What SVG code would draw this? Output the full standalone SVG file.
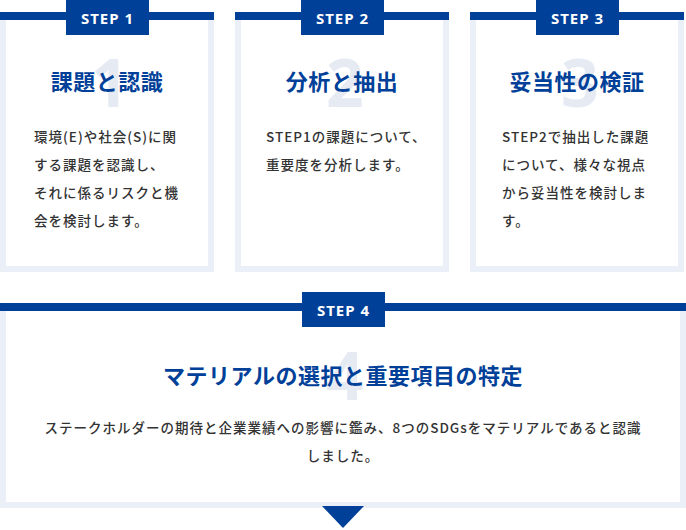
<svg xmlns="http://www.w3.org/2000/svg" width="686" height="530" viewBox="0 0 686 530">
<style>
.box{fill:#fff;stroke:#ebf0f8;stroke-width:6}
.bar{fill:#004098}
.lbl{font-family:"Noto Sans","Noto Sans CJK JP",sans-serif;font-weight:700;font-size:15px;fill:#fff;text-anchor:middle;letter-spacing:1px}
.num{font-family:"Noto Sans",sans-serif;font-weight:700;font-size:66px;fill:#e6ebf3;text-anchor:middle}
.ttl{font-family:"Noto Sans CJK JP",sans-serif;font-weight:700;font-size:22px;fill:#004098;text-anchor:middle;letter-spacing:0.5px}
.txt{font-family:"Noto Sans CJK JP",sans-serif;font-weight:500;font-size:13.5px;fill:#333;letter-spacing:1px}
</style>
<g id="step1">
<rect class="box" x="3" y="15" width="208" height="254"/>
<rect class="bar" x="0" y="12" width="214" height="8"/>
<rect class="bar" x="66" y="0" width="83" height="35"/>
<text class="lbl" x="107.5" y="24">STEP 1</text>
<text class="num" x="110" y="107">1</text>
<text class="ttl" x="107" y="90">課題と認識</text>
<text class="txt" x="34" y="142">環境(E)や社会(S)に関</text>
<text class="txt" x="34" y="170">する課題を認識し、</text>
<text class="txt" x="34" y="198">それに係るリスクと機</text>
<text class="txt" x="34" y="226">会を検討します。</text>
</g>
<g id="step2">
<rect class="box" x="238" y="15" width="208" height="254"/>
<rect class="bar" x="235" y="12" width="214" height="8"/>
<rect class="bar" x="301" y="0" width="83" height="35"/>
<text class="lbl" x="342.5" y="24">STEP 2</text>
<text class="num" x="345" y="107">2</text>
<text class="ttl" x="342" y="90">分析と抽出</text>
<text class="txt" x="266" y="142">STEP1の課題について、</text>
<text class="txt" x="266" y="170">重要度を分析します。</text>
</g>
<g id="step3">
<rect class="box" x="473" y="15" width="208" height="254"/>
<rect class="bar" x="470" y="12" width="214" height="8"/>
<rect class="bar" x="536" y="0" width="83" height="35"/>
<text class="lbl" x="577.5" y="24">STEP 3</text>
<text class="num" x="580" y="107">3</text>
<text class="ttl" x="577" y="90">妥当性の検証</text>
<text class="txt" x="502" y="142">STEP2で抽出した課題</text>
<text class="txt" x="502" y="170">について、様々な視点</text>
<text class="txt" x="502" y="198">から妥当性を検討しま</text>
<text class="txt" x="502" y="226">す。</text>
</g>
<g id="step4">
<rect class="box" x="3" y="307" width="680" height="198"/>
<rect class="bar" x="0" y="303" width="686" height="8"/>
<rect class="bar" x="302" y="292" width="83" height="35"/>
<text class="lbl" x="343.5" y="316">STEP 4</text>
<text class="num" x="345" y="400">4</text>
<text class="ttl" x="343" y="384">マテリアルの選択と重要項目の特定</text>
<text class="txt" x="343" y="433" text-anchor="middle">ステークホルダーの期待と企業業績への影響に鑑み、8つのSDGsをマテリアルであると認識</text>
<text class="txt" x="343" y="461" text-anchor="middle">しました。</text>
</g>
<g id="connectors">
<polygon class="bar" points="322,506 364,506 343,528"/>
</g>
</svg>
